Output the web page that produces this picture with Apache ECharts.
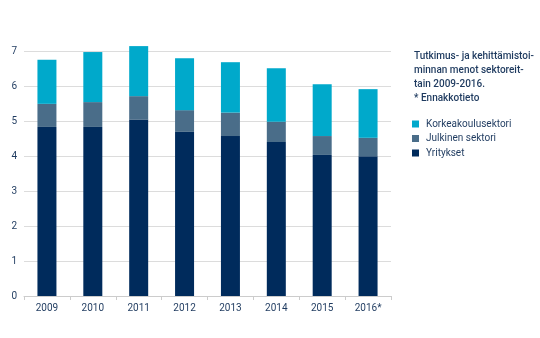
<!DOCTYPE html>
<html><head><meta charset="utf-8">
<script src="https://cdn.jsdelivr.net/npm/echarts@6/dist/echarts.min.js"></script>
<style>html,body{margin:0;padding:0;background:#fff}#c{width:540px;height:338px}</style>
</head><body><div id="c"></div>
<script>
const categories = ['2009','2010','2011','2012','2013','2014','2015','2016*'];
const yritykset = [4.83,4.83,5.04,4.69,4.57,4.40,4.03,3.99];
const julkinen = [0.66,0.71,0.67,0.62,0.67,0.58,0.54,0.53];
const korkeakoulu = [1.26,1.43,1.43,1.48,1.44,1.53,1.48,1.39];
const seriesNames = ['Yritykset','Julkinen sektori','Korkeakoulusektori'];
const titleLines = ['Tutkimus- ja kehittämistoi-','minnan menot sektoreit-','tain 2009-2016.','* Ennakkotieto'];

const font = 'Roboto';
const textColor = '#1e3a5f';
const colors = ['#002b5c','#4a6d89','#00a9cb'];
const chart = echarts.init(document.getElementById('c'), null, {renderer:'canvas'});
chart.setOption({
  animation:false,
  textStyle:{fontFamily:font},
  title:{text:titleLines.join('\n'), left:414, top:49, padding:0,
    textStyle:{fontFamily:font,fontSize:10,fontWeight:500,color:textColor,lineHeight:14.2}},
  legend:{orient:'vertical', left:407, top:114, icon:'rect', itemWidth:7, itemHeight:7, itemGap:4.5,
    data:[seriesNames[2],seriesNames[1],seriesNames[0]],
    textStyle:{fontFamily:font,fontSize:10,color:textColor,padding:[0,0,0,2]}},
  grid:{left:24,right:149,top:51,bottom:42},
  xAxis:{type:'category',data:categories,
    axisLine:{lineStyle:{color:'#cccccc'}},
    axisTick:{show:true,length:4,lineStyle:{color:'#cccccc'}},
    axisLabel:{color:textColor,fontSize:10,fontFamily:font,margin:7}},
  yAxis:{type:'value',min:0,max:7,interval:1,
    axisLine:{show:false},axisTick:{show:false},
    splitLine:{lineStyle:{color:'#dcdcdc'}},
    axisLabel:{color:textColor,fontSize:10,fontFamily:font,margin:7}},
  series:[
    {name:seriesNames[0],type:'bar',stack:'a',data:yritykset,barWidth:19,clip:false,itemStyle:{color:colors[0]}},
    {name:seriesNames[1],type:'bar',stack:'a',data:julkinen,barWidth:19,clip:false,itemStyle:{color:colors[1]}},
    {name:seriesNames[2],type:'bar',stack:'a',data:korkeakoulu,barWidth:19,clip:false,itemStyle:{color:colors[2]}}
  ]
});
</script></body></html>
